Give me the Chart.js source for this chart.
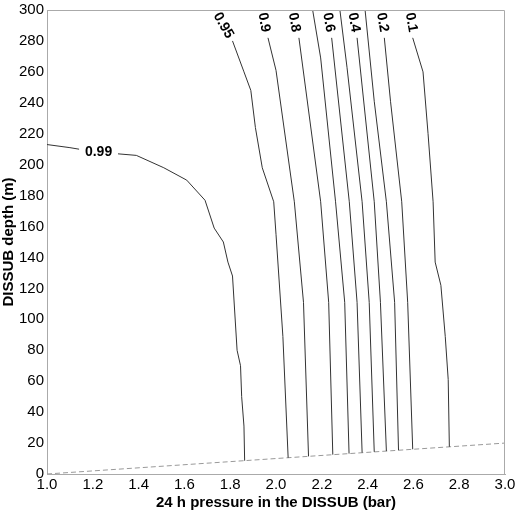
<!DOCTYPE html>
<html><head><meta charset="utf-8">
<script src="https://cdn.jsdelivr.net/npm/chart.js@4"></script>
<style>html,body{margin:0;padding:0;background:#fff}#w{width:520px;height:512px}</style>
</head><body><div id="w"><canvas id="c"></canvas></div>
<script>
const levels = ['0.99','0.95','0.9','0.8','0.7','0.6','0.5','0.4','0.3','0.2','0.1'];
const c099 = [[1.0,213],[1.10,211],[1.14,210],null,[1.31,207],[1.39,206],[1.51,198],[1.61,190],[1.69,177],[1.73,159],[1.77,150],[1.79,137],[1.81,128],[1.83,80],[1.845,70],[1.85,50],[1.86,31],[1.863,8.6]];
const c095 = [[1.81,280],[1.86,260],[1.89,248],[1.91,224],[1.94,198],[1.99,176],[2.00,155],[2.03,89],[2.053,10.5]];
const c09 = [[1.965,282],[2.00,261],[2.08,176],[2.12,111],[2.142,11.4]];
const c08 = [[2.10,282],[2.195,176],[2.23,111],[2.248,12.5]];
const c07 = [[2.16,300],[2.195,269],[2.26,176],[2.30,111],[2.319,13.2]];
const c06 = [[2.243,282],[2.32,176],[2.354,111],[2.376,13.8]];
const c05 = [[2.279,300],[2.31,263],[2.376,176],[2.407,111],[2.429,14.3]];
const c04 = [[2.354,282],[2.429,176],[2.456,111],[2.482,14.8]];
const c03 = [[2.389,300],[2.429,241],[2.482,176],[2.518,111],[2.535,15.4]];
const c02 = [[2.473,282],[2.50,241],[2.549,176],[2.575,111],[2.597,16]];
const c01 = [[2.597,282],[2.642,260],[2.664,220],[2.686,176],[2.695,137],[2.72,122],[2.739,89],[2.752,61],[2.757,17.6]];
const seabed = [[1.0,0],[3.0,20]];
const labelText = ['0.99','0.95','0.9','0.8','0.6','0.4','0.2','0.1'];
const labelX = [1.225,1.77,1.947,2.08,2.23,2.34,2.465,2.59];
const labelY = [208,290,292,292,292,292,292,292];
const labelAngle = [0,60,80,80,80,80,80,80];

const toPts = a => a.map(p => p ? {x:p[0],y:p[1]} : {x:null,y:null});
const curves = [c099,c095,c09,c08,c07,c06,c05,c04,c03,c02,c01];
const datasets = curves.map((c,i)=>({label:levels[i],data:toPts(c),showLine:true,borderColor:'#333',borderWidth:1,pointRadius:0,tension:0,spanGaps:false}));
datasets.push({label:'seabed',data:toPts(seabed),showLine:true,borderColor:'#999',borderWidth:1,borderDash:[5,3],pointRadius:0});

const labelPlugin = {id:'lbl',afterDatasetsDraw(ch){
  const ctx=ch.ctx,xs=ch.scales.x,ys=ch.scales.y,a=ch.chartArea;
  ctx.save();
  ctx.strokeStyle='#aaa';ctx.lineWidth=1;
  ctx.beginPath();ctx.moveTo(a.left,a.top+0.5);ctx.lineTo(a.right-0.5,a.top+0.5);ctx.lineTo(a.right-0.5,a.bottom);ctx.stroke();
  ctx.font='bold 14px "Liberation Sans", Arial';ctx.textAlign='center';ctx.textBaseline='middle';ctx.fillStyle='#000';
  labelText.forEach((t,i)=>{
    ctx.save();ctx.translate(xs.getPixelForValue(labelX[i]),ys.getPixelForValue(labelY[i]));
    ctx.rotate(labelAngle[i]*Math.PI/180);ctx.fillText(t,0,0);ctx.restore();
  });
  ctx.restore();
}};

new Chart(document.getElementById('c'),{type:'scatter',data:{datasets},
 options:{responsive:true,maintainAspectRatio:false,animation:false,
  layout:{padding:{top:10,right:15,left:0,bottom:0}},
  plugins:{legend:{display:false},tooltip:{enabled:false}},
  scales:{
   x:{type:'linear',min:1,max:3,grid:{display:false,drawTicks:true,tickLength:2},border:{color:'#aaa'},
      ticks:{stepSize:0.2,color:'#000',font:{family:'"Liberation Sans", Arial',size:15},callback:v=>v.toFixed(1),padding:0},
      title:{display:true,text:'24 h pressure in the DISSUB (bar)',color:'#000',font:{family:'"Liberation Sans", Arial',size:15,weight:'bold'},padding:{top:0,bottom:0}}},
   y:{type:'linear',min:0,max:300,grid:{display:false,tickLength:2},border:{color:'#aaa'},
      ticks:{stepSize:20,color:'#000',font:{family:'"Liberation Sans", Arial',size:15},padding:1},
      title:{display:true,text:'DISSUB depth (m)',color:'#000',font:{family:'"Liberation Sans", Arial',size:15,weight:'bold'},padding:{top:0,bottom:0}}}
  }},plugins:[labelPlugin]});
</script></body></html>
